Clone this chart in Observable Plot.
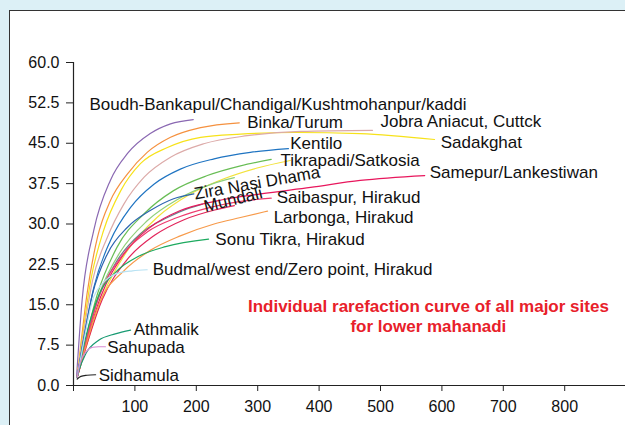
<!DOCTYPE html>
<html>
<head>
<meta charset="utf-8">
<script src="https://cdn.jsdelivr.net/npm/d3@7"></script>
<script src="https://cdn.jsdelivr.net/npm/@observablehq/plot@0.6"></script>
<style>
  html, body { margin: 0; padding: 0; background: #dcf0f6; overflow: hidden; }
  #panel { position: absolute; left: 9px; top: 10px; width: 700px; height: 500px;
           background: #ffffff; border-left: 1px solid #333; border-top: 1px solid #333; }
  #chart { position: absolute; left: 0; top: 0; }
  #chart svg { background: transparent !important; }
</style>
</head>
<body>
<div id="panel"></div>
<div id="chart"></div>
<script>
// ---- data: [samples, species] ----
const boudh     = [[5,1.7],[14,15.8],[33,28.8],[60,38.1],[88,43.1],[125,46.8],[158,48.6],[195,49.4]];
const binka     = [[6,1.5],[22,17.0],[39,27.5],[60,34.3],[88,39.3],[120,43.3],[158,46.1],[207,47.9],[270,48.8]];
const sadakghat = [[6,1.5],[28,19.5],[49,28.8],[77,36.2],[109,41.2],[153,44.2],[207,46.1],[272,46.7],[359,47.0],[467,46.8],[588,45.7]];
const jobra     = [[6,1.5],[31,19.5],[55,27.5],[82,33.7],[115,38.7],[158,42.4],[212,44.9],[283,46.4],[370,47.2],[487,47.4]];
const kentilo   = [[6,1.5],[33,18.2],[60,26.9],[93,33.1],[131,37.4],[174,40.2],[229,42.1],[288,43.3],[350,44.0]];
const tikrapadi = [[6,1.5],[39,17.0],[71,25.7],[115,31.9],[163,36.2],[218,39.0],[272,40.8],[322,42.0]];
const tikrapadi2= [[6,1.5],[49,17.0],[88,25.1],[136,31.2],[191,35.6],[245,38.4],[299,40.4],[353,41.8]];
const green2    = [[6,1.5],[42,17.0],[76,24.8],[120,30.6],[170,34.6],[225,37.4],[262,38.6]];
const zira      = [[6,1.5],[31,17.0],[55,24.4],[88,29.4],[125,32.5],[163,34.7],[196,35.6]];
const mundali   = [[6,1.5],[39,15.8],[71,23.2],[109,28.2],[153,31.2],[185,32.8],[210,33.7]];
const samepur   = [[6,1.5],[44,16.4],[82,24.4],[125,29.4],[174,32.5],[234,34.3],[305,35.6],[386,36.8],[467,38.1],[572,39.0]];
const saibaspur = [[6,1.5],[41,16.4],[77,23.8],[120,28.5],[169,31.2],[223,33.1],[272,34.2],[322,34.8]];
const red3      = [[6,1.5],[47,16.0],[86,23.2],[132,27.9],[180,30.8],[230,32.6],[262,33.4]];
const larbonga  = [[6,1.5],[44,15.8],[82,21.3],[125,25.1],[174,27.8],[229,30.0],[272,31.2],[316,32.4]];
const sonutikra = [[6,1.5],[20,9.0],[42,17.0],[70,21.2],[106,24.0],[150,25.8],[220,27.2]];
const budmal    = [[6,1.5],[15,7.1],[31,15.8],[47,18.9],[68,20.7],[96,21.3],[120,21.5]];
const athmalik  = [[6,1.5],[9,2.8],[20,5.9],[41,8.4],[68,9.6],[93,10.3]];
const sahupada  = [[6,1.5],[11,4.3],[20,6.2],[31,7.1],[41,7.2],[52,7.2]];
const sidhamula = [[6,1.2],[12,1.7],[22,1.9],[36,2.0]];

const seriesNames  = ["Boudh","Binka","Sadakghat","Jobra","Kentilo","Tikrapadi","Tikrapadi2","Green2","Zira","Mundali","Samepur","Saibaspur","Red3","Larbonga","SonuTikra","Budmal","Athmalik","Sahupada","Sidhamula"];
const seriesValues = [boudh,binka,sadakghat,jobra,kentilo,tikrapadi,tikrapadi2,green2,zira,mundali,samepur,saibaspur,red3,larbonga,sonutikra,budmal,athmalik,sahupada,sidhamula];
const seriesColors = ["#8a68b2","#f5913f","#f7e21a","#dcaaa8","#1f74c2","#68bd55","#f2e23c","#8fd07a","#2c65b0","#6d7f8c","#e8175d","#ee3a6e","#e2245a","#f79a4a","#1daa5f","#b7e2f3","#179a72","#d78ad2","#222222"];

const labelTexts = ["Boudh-Bankapul/Chandigal/Kushtmohanpur/kaddi","Binka/Turum","Jobra Aniacut, Cuttck","Sadakghat","Kentilo","Tikrapadi/Satkosia","Samepur/Lankestiwan","Saibaspur, Hirakud","Larbonga, Hirakud","Sonu Tikra, Hirakud","Budmal/west end/Zero point, Hirakud","Athmalik","Sahupada","Sidhamula"];
const labelX = [26,283,500,598,353,337,580,331,326,231,129,98,55,41];
const labelY = [52.2,48.8,49.0,45.1,45.0,41.7,39.5,34.9,31.2,27.1,21.5,10.4,7.05,1.86];

const rotTexts = ["Zira Nasi Dhama","Mundali"];
const rotX = [299,260];
const rotY = [37.6,34.5];
const rotAngle = [-10,-14];

const noteLines = ["Individual rarefaction curve of all major sites","for lower mahanadi"];
const noteX = [578,578];
const noteY = [14.7,11.0];

const xTicks = [0,100,200,300,400,500,600,700,800];
const yTicks = [0,7.5,15,22.5,30,37.5,45,52.5,60];

// ---- build table ----
const rows = [];
seriesValues.forEach((arr, i) => arr.forEach(([x, y]) => rows.push({site: seriesNames[i], x, y})));
const labels = labelTexts.map((t, i) => ({t, x: labelX[i], y: labelY[i]}));
const rots = rotTexts.map((t, i) => ({t, x: rotX[i], y: rotY[i], a: rotAngle[i]}));
const notes = noteLines.map((t, i) => ({t, x: noteX[i], y: noteY[i]}));

const chart = Plot.plot({
  width: 625,
  height: 425,
  marginLeft: 73,
  marginRight: 0,
  marginTop: 62,
  marginBottom: 40,
  style: {fontFamily: "'Liberation Sans', Arial, sans-serif", fontSize: "16px", background: "transparent", color: "#111"},
  x: {domain: [0, 899], label: null},
  y: {domain: [0, 60], label: null},
  color: {domain: seriesNames, range: seriesColors},
  marks: [
    Plot.line(rows, {x: "x", y: "y", z: "site", stroke: "site", strokeWidth: 1.2, curve: "monotone-x"}),
    Plot.ruleY([0], {stroke: "#222", strokeWidth: 1.2}),
    Plot.ruleX([0], {stroke: "#222", strokeWidth: 1.2}),
    Plot.axisX({ticks: xTicks, tickFormat: d => d === 0 ? "" : String(d), tickSize: 6, tickPadding: 9, fontSize: 16, stroke: "#222", fill: "#111", label: null}),
    Plot.axisY({ticks: yTicks, tickFormat: d3.format(".1f"), tickSize: 7, tickPadding: 7, fontSize: 16, stroke: "#222", fill: "#111", label: null}),
    Plot.text(labels, {x: "x", y: "y", text: "t", textAnchor: "start", lineAnchor: "middle", fontSize: 17, fill: "#111"}),
    ...rots.map(r => Plot.text([r], {x: "x", y: "y", text: "t", rotate: r.a, textAnchor: "middle", lineAnchor: "middle", fontSize: 17, fill: "#111"})),
    Plot.text(notes, {x: "x", y: "y", text: "t", textAnchor: "middle", lineAnchor: "middle", fontSize: 17, fontWeight: "bold", fill: "#e8202a"})
  ]
});
document.getElementById("chart").appendChild(chart);
</script>
</body>
</html>
